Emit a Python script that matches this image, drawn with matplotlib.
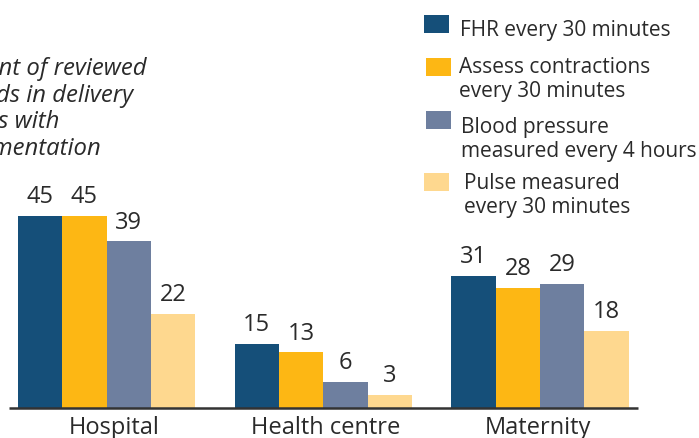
import numpy as np
import matplotlib.pyplot as plt

# values (percent of reviewed records)
categories = ['Hospital', 'Health centre', 'Maternity']
fhr = [45, 15, 31]
contractions = [45, 13, 28]
blood_pressure = [39, 6, 29]
pulse = [22, 3, 18]

series = [fhr, contractions, blood_pressure, pulse]
series_labels = ['FHR every 30 minutes',
                 'Assess contractions\nevery 30 minutes',
                 'Blood pressure\nmeasured every 4 hours',
                 'Pulse measured\nevery 30 minutes']
colors = ['#154F79', '#FDB714', '#6E7F9F', '#FED88F']
title_lines = ['Percent of reviewed', 'records in delivery', 'rooms with', 'documentation']

plt.rcParams['font.family'] = ['Open Sans', 'DejaVu Sans']
text_color = '#2a2a2a'

W, H = 699, 438
fig = plt.figure(figsize=(W / 100, H / 100), dpi=100)

# axes: baseline at y=408 px, one group step = 216.75 px, group 0 centred at 106.5 px
step = 216.75
ax = fig.add_axes([0, 30 / H, 1, 408 / H])
ax.set_xlim(-106.5 / step, (W - 106.5) / step)
ax.set_ylim(0, 408 / 4.27)
ax.axis('off')

x = np.arange(len(categories))
bw = 44.3 / step
for i, (vals, c) in enumerate(zip(series, colors)):
    pos = x + (i - 1.5) * bw
    bars = ax.bar(pos, vals, width=bw, color=c, linewidth=0)
    for b, v in zip(bars, vals):
        ax.annotate(str(v), (b.get_x() + b.get_width() / 2, v),
                    xytext=(0, 5), textcoords='offset points',
                    ha='center', va='bottom', fontsize=17, color=text_color)

ax.hlines(0, -97.5 / step, (638 - 106.5) / step, color='#333333', lw=1.8,
          clip_on=False, zorder=3)

label_shift = [8, 2, -2]
for xi, cat, dx in zip(x, categories, label_shift):
    ax.annotate(cat, (xi, 0), xytext=(dx * 0.72, -18.5), textcoords='offset points',
                ha='center', va='baseline', fontsize=17, color=text_color)

# italic title, left part cut by the figure edge
renderer = fig.canvas.get_renderer()
probe = fig.text(0, 0, title_lines[0], fontsize=17.2, style='italic')
w0 = probe.get_window_extent(renderer).width
probe.remove()
x0 = 146 - w0
for k, line in enumerate(title_lines):
    fig.text(x0 / W, 1 - (75 + 26.7 * k) / H, line, fontsize=17.2, style='italic',
             color=text_color, ha='left', va='baseline')

# legend drawn by hand
box_y = [15, 58, 111, 173]
box_x = [424, 426, 426, 424]
text_x = [460, 459, 461, 464]
base_y = [36, 73, 133, 189]
for c, lab, bx, by, tx, ty in zip(colors, series_labels, box_x, box_y, text_x, base_y):
    fig.patches.append(plt.Rectangle((bx / W, 1 - (by + 18) / H), 25 / W, 18 / H,
                                     transform=fig.transFigure, color=c, lw=0))
    for j, line in enumerate(lab.split('\n')):
        fig.text(tx / W, 1 - (ty + 23.5 * j) / H, line, fontsize=15,
                 color=text_color, ha='left', va='baseline')

fig.savefig('out.png', dpi=100)
